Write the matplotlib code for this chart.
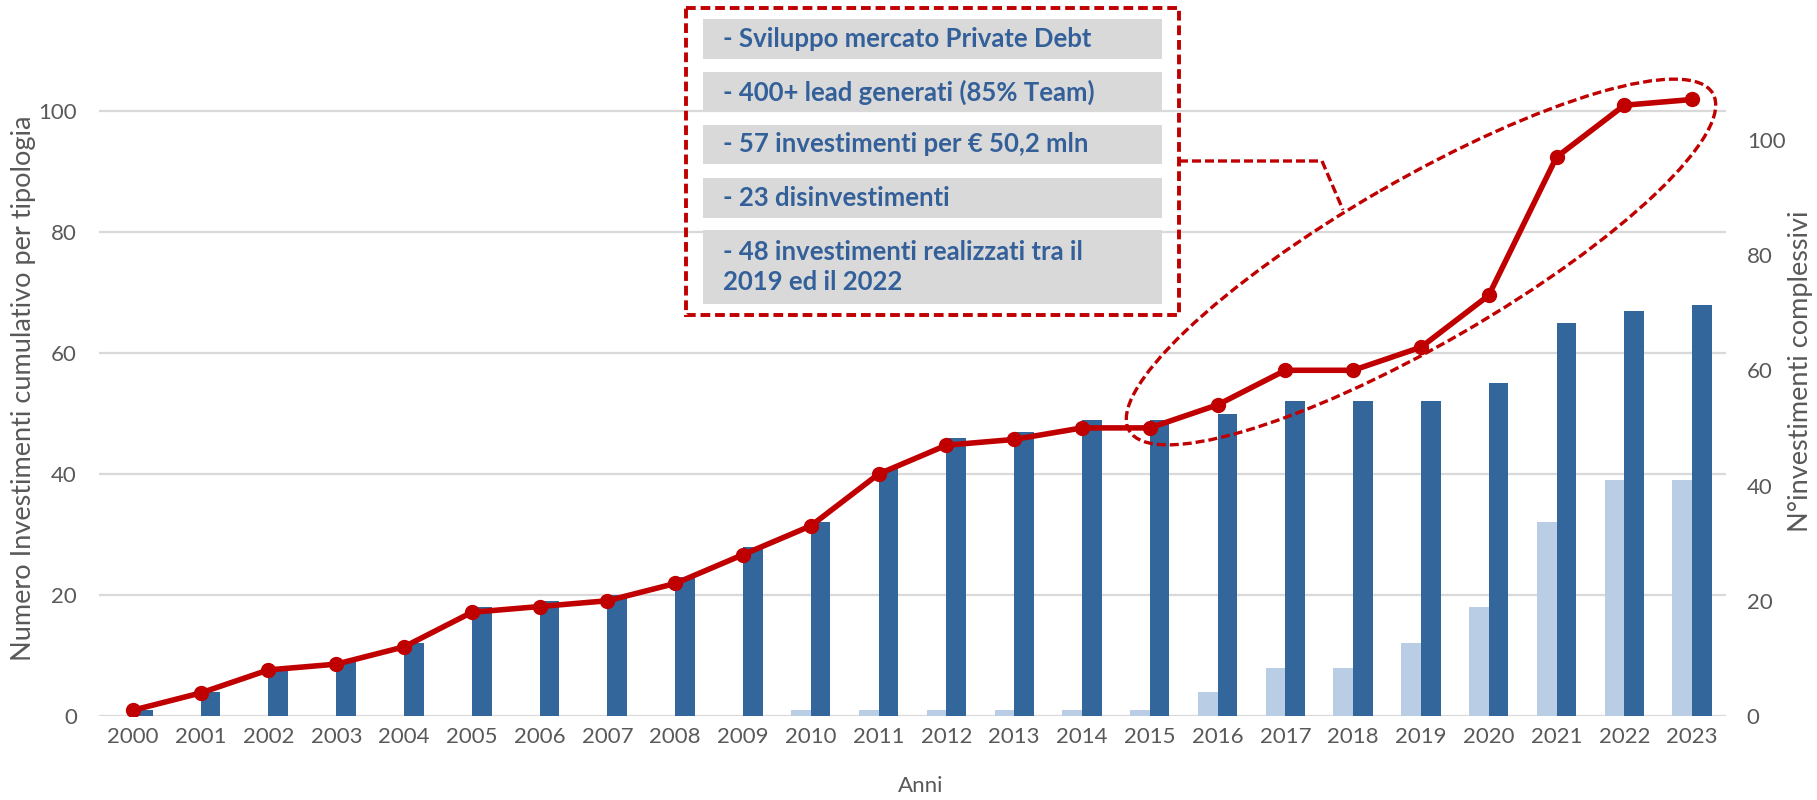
import numpy as np
import matplotlib.pyplot as plt
from matplotlib.patches import Ellipse, Rectangle
from matplotlib.transforms import Affine2D

# %% DATA
years = ['2000', '2001', '2002', '2003', '2004', '2005', '2006', '2007',
         '2008', '2009', '2010', '2011', '2012', '2013', '2014', '2015',
         '2016', '2017', '2018', '2019', '2020', '2021', '2022', '2023']
# cumulative investments per type (left axis)
inv_light = [0, 0, 0, 0, 0, 0, 0, 0, 0, 0, 1, 1, 1, 1, 1, 1,
             4, 8, 8, 12, 18, 32, 39, 39]
inv_dark = [1, 4, 8, 9, 12, 18, 19, 20, 23, 28, 32, 41, 46, 47, 49, 49,
            50, 52, 52, 52, 55, 65, 67, 68]
# total cumulative investments (right axis)
inv_total = [1, 4, 8, 9, 12, 18, 19, 20, 23, 28, 33, 42, 47, 48, 50, 50,
             54, 60, 60, 64, 73, 97, 106, 107]

notes = ['- Sviluppo mercato Private Debt',
         '- 400+ lead generati (85% Team)',
         '- 57 investimenti per € 50,2 mln',
         '- 23 disinvestimenti',
         '- 48 investimenti realizzati tra il\n2019 ed il 2022']

# %% STYLE
plt.rcParams['font.family'] = ['Lato', 'DejaVu Sans']
RED = '#C00000'
DARK = '#33669A'
LIGHT = '#B9CDE5'
GRID = '#D9D9D9'
TXT = '#595959'
NOTE = '#34609A'

W, H = 1817, 800
fig = plt.figure(figsize=(W / 100, H / 100), dpi=100)
ax = fig.add_axes([99 / W, 84 / H, 1627 / W, 726 / H])
# pixel transform with origin at top-left of the image
pix = Affine2D().scale(1, -1).translate(0, H)

x = np.arange(len(years))
bw = 0.29
ax.bar(x - bw / 2, inv_light, bw, color=LIGHT, zorder=2)
ax.bar(x + bw / 2, inv_dark, bw, color=DARK, zorder=2)
ax.set_xlim(-0.5, len(years) - 0.5)
ax.set_ylim(0, 120)
ax.set_yticks(np.arange(0, 101, 20))
ax.set_xticks(x)
ax.set_xticklabels(years)
ax.yaxis.grid(True, color=GRID, lw=1.6)
ax.set_axisbelow(True)
for s in ax.spines.values():
    s.set_visible(False)
ax.tick_params(axis='x', length=0, pad=8, labelsize=16, labelcolor=TXT)
ax.tick_params(axis='y', length=0, pad=16, labelsize=16, labelcolor=TXT)
ax.set_ylabel('Numero Investimenti cumulativo per tipologia', fontsize=19.5, color=TXT)
ax.yaxis.set_label_coords(-0.039, 0.452)
ax.set_xlabel('Anni', fontsize=16, color=TXT)
ax.xaxis.set_label_coords(0.505, -0.082)

ax2 = ax.twinx()
ax2.plot(x, inv_total, color=RED, lw=4, marker='o', ms=10, zorder=3)
ax2.set_ylim(0, 126)
ax2.set_yticks(np.arange(0, 101, 20))
for s in ax2.spines.values():
    s.set_visible(False)
ax2.tick_params(axis='y', length=0, pad=15, labelsize=16, labelcolor=TXT)
ax2.set_ylabel('N°investimenti complessivi', fontsize=19.5, color=TXT)
ax2.yaxis.set_label_coords(1.038, 0.475)

# %% ANNOTATIONS
fig.add_artist(Rectangle((686, 8), 493, 307, transform=pix, fill=False,
                         ec=RED, lw=2.8, ls=(0, (2.5, 1.25))))
rows = [(19, 40), (72, 40), (125, 39), (178, 40), (230, 74)]
for (top, h), txt in zip(rows, notes):
    fig.add_artist(Rectangle((703, top), 459, h, transform=pix,
                             fc=GRID, ec='none'))
    fig.text(723, top + h / 2, txt, transform=pix, ha='left', va='center',
             fontsize=18.5, fontweight='bold', color=NOTE, linespacing=1.25)

fig.add_artist(Ellipse((1421, 262), 674, 164, angle=-30, transform=pix,
                       fill=False, ec=RED, lw=2.4, ls=(0, (2.7, 1.2))))
fig.add_artist(plt.Line2D([1179, 1322, 1343], [161, 161, 210], transform=pix,
                          color=RED, lw=2.4, ls=(0, (2.7, 1.2))))

plt.savefig('out.png', dpi=100)
